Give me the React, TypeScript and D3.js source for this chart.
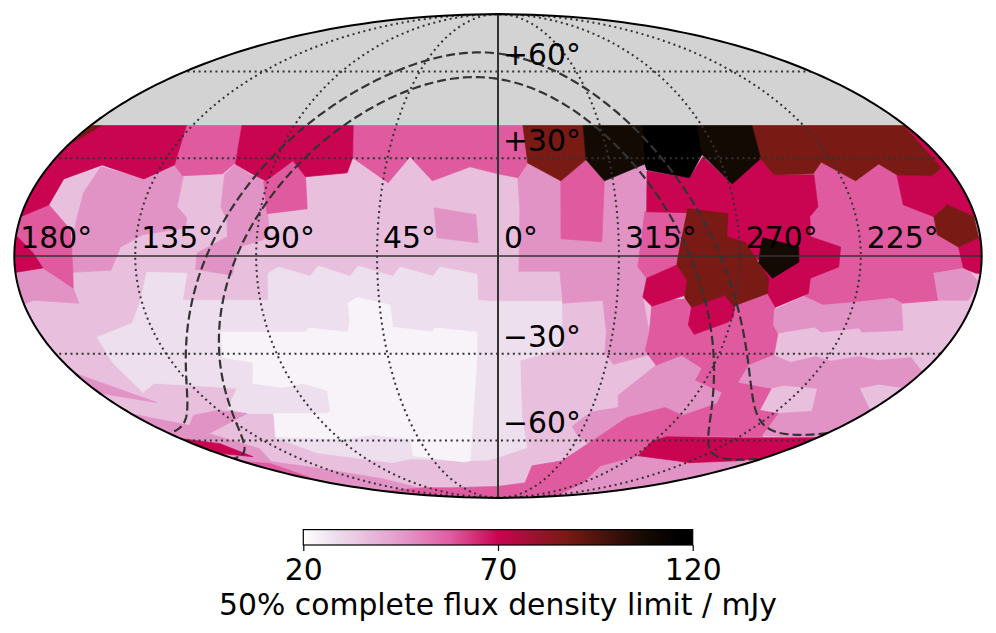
import React, { useEffect, useRef } from "react";
import * as d3 from "d3";

type Sky = [number, number];

// flux density limit (mJy) of each colour level seen on the map
const F0 = 23, F1 = 28, F2 = 36, F3 = 47, F4 = 58, F5 = 70, F6 = 87, F7 = 108, F8 = 117;

const colourValues = [20, F0, F1, F2, F3, F4, F5, F6, F7, F8, 120];
const colourStops = ["#ffffff", "#f8f3f8", "#eddfed", "#e8bfdd", "#e293c5", "#e05a9f", "#c90451", "#7a1a14", "#140a04", "#000000", "#000000"];

const colourTicks = [20, 70, 120];
const raLabels: [number, string][] = [[180, "180°"], [135, "135°"], [90, "90°"], [45, "45°"], [0, "0°"], [-45, "315°"], [-90, "270°"], [-135, "225°"]];
const decLabels: [number, string][] = [[60, "+60°"], [30, "+30°"], [-30, "−30°"], [-60, "−60°"]];
const meridians = [-135, -90, -45, 45, 90, 135];
const parallels = [-60, -30, 30, 60];
const galacticEdges = [-5, 5];
const northLimit = 40.8;

// the rest of the sky sits at F2; cells are painted over it in this order, [RA, Dec] in degrees
const lightCells: [number, Sky[]][] = [
  [F1, [[135.7, -14], [131, -4.9], [116, -5.2], [119.4, -13.4], [87, -13.4], [85.8, -5.2], [81.8, -3.3], [70.1, -6.1], [67, -3], [55.2, -6.1], [52.1, -3], [39.2, -6.1], [36.5, -3.3], [24.2, -6.1], [21.6, -3.3], [7.8, -5.5], [7.6, -13.4], [3, -13.7], [-24.2, -13.7], [-25.7, -28.2], [-9.1, -32.2], [-12, -51.5], [-17.7, -62.9], [5.5, -68], [24.5, -68.4], [59.8, -67.5], [75.6, -69.2], [115.8, -65], [125.5, -59], [116.7, -55], [110.3, -50], [123, -50], [129.6, -48.2], [116, -41.3], [150.4, -39.6], [160, -42.7], [159.8, -33], [158.4, -24.8], [141.6, -20.4]]],
  [F0, [[108.4, -23.2], [75.3, -23.2], [74, -21.9], [58.9, -23.2], [57.3, -20.1], [56.9, -14.3], [53.2, -12.5], [41, -14.9], [41, -21.6], [25.7, -23.2], [24.6, -21.9], [8.2, -23.2], [8.7, -32.2], [10.2, -41], [19.6, -68.4], [24.9, -68.8], [56, -66.2], [49.8, -59.4], [68.8, -57.8], [88.3, -59.4], [124.7, -58.6], [109.8, -50], [83.8, -50], [81.1, -48.9], [76.4, -42], [85.5, -39.6], [95.5, -41], [107.3, -39.6], [101.4, -32.8], [112.8, -31.2]]],
];

const midCells: [number, Sky[]][] = [
  [F3, [[159, 27.3], [139, 23.5], [130, 27.9], [124, 24.2], [122, 14.9], [117.3, 11.6], [117, 8.5], [132.8, 6.4], [140.6, 2.7], [144.3, -4.3], [158.9, -4.9], [159.2, 1.8], [158.6, 10], [159.8, 19.2]]],
  [F3, [[105.7, 28.2], [108, 24.8], [105.3, 14.9], [102, 10.9], [101, 5.8], [112, 0.9], [112.7, -4], [99.2, -5.8], [97, 2.7], [89.7, 4.3], [86.2, 5.5], [86.2, 10], [87.5, 14], [90.9, 23.2], [98, 24.8]]],
  [F3, [[24.3, 14.6], [8.3, 12.5], [7.4, 4], [22.8, 5.5]]],
  [F3, [[-7.8, 23.9], [-12, 28.5], [-24.6, 22.9], [-35.6, 29.2], [-41.7, 23.2], [-59.1, 27.9], [-56.3, 13.4], [-52.8, -0.3], [-52.1, -3.3], [-55.6, -6.7], [-54.7, -12.5], [-59.4, -23.5], [-59.5, -29], [-60.8, -30.5], [-48, -33.4], [-43.4, -29.8], [-42.5, -23.2], [-39.7, -13.4], [-24.6, -14.3], [-23.1, -4.6], [-7.8, -4.6], [-8.3, 14]]],
  [F3, [[179.4, -5.2], [169.6, -3.6], [159.5, -9.7], [159, -14.3], [175.8, -13.4], [179, -14.3], [200, -14.3], [200, -5.2]]],
  [F3, [[180, -36.3], [159.6, -46.1], [180, -43], [190, -40]]],
  [F3, [[182.8, -49.5], [160.8, -54.3], [150.7, -50.7], [135.7, -48.9], [123, -50], [158.6, -57.4], [152.4, -60.2], [146.8, -63.3], [160.5, -68.8], [140.3, -71.5], [110.4, -76.8], [103, -82.5], [190, -87], [200, -85], [200, -78], [200, -65], [200, -52]]],
  [F3, [[-91, -79], [-76.5, -70.6], [-92.4, -66.2], [-125.3, -68.4], [-136.8, -69.2], [-166.6, -68.4], [-205, -68.4], [-205, -85], [-190, -87], [-150, -87]]],
  [F3, [[-54.7, -43.7], [-65.9, -33.7], [-75, -30.5], [-85.7, -34.7], [-85.7, -38.6], [-101, -42.7], [-102.9, -46.5], [-91.4, -50.7], [-79.8, -47.9], [-64.5, -51.5], [-57.4, -47.9]]],
  [F3, [[-38.9, -54.7], [-45.1, -49.5], [-57.4, -47.9], [-64.5, -51.5], [-53.1, -61.3], [-44.4, -58.2]]],
  [F4, [[180, 11.9], [171, 15.5], [160, 7.9], [158.5, -4.3], [159.5, -9.7], [169.6, -3.6], [173, 0.9], [179.4, 5.8], [200, 5.8], [200, 11.9]]],
  [F4, [[138, 41], [113.4, 41], [106, 28.5], [109, 25.1], [124.5, 24.5], [130, 27.9]]],
  [F4, [[83, 29.2], [75.8, 24.2], [72.4, 14.3], [87.3, 12.8], [91.6, 22.6]]],
  [F4, [[64.2, 41], [-11, 41], [-12, 28.5], [-7.8, 23.9], [0, 25.1], [11.2, 27.3], [25.7, 22.9], [35.9, 30.5], [42.9, 22.3], [59.2, 30.2]]],
  [F4, [[-24.6, 22.9], [-35.6, 29.2], [-41.7, 23.2], [-38.7, 4.3], [-23.5, 5.2]]],
  [F4, [[-55.6, 13.4], [-71.8, 13.1], [-67.7, -0.3], [-66.6, -2.7], [-55.6, -6.7], [-52.1, -3.3]]],
  [F4, [[165, -69.6], [185, -79], [195, -75], [190, -68]]],
  [F4, [[-58.5, -15.2], [-59.4, -23.5], [-59.5, -29], [-65.9, -33.7], [-75, -30.5], [-85.7, -34.7], [-85.7, -38.6], [-101, -42.7], [-102.9, -46.5], [-91.4, -50.7], [-79.8, -47.9], [-64.5, -51.5], [-53.1, -61.3], [-44.8, -68.4], [-25.5, -70.6], [-28.9, -79], [0, -81], [62, -81.8], [97.5, -81.8], [176, -83.8], [200, -85], [190, -87], [190, -89], [0, -90], [-190, -89], [-150, -87], [-91, -79], [-76.5, -70.6], [-92.4, -66.2], [-89.1, -60.2], [-94.5, -58.6], [-148, -58.6], [-137.7, -50], [-126.5, -48.9], [-121.5, -41.3], [-105, -39.3], [-104.7, -33.7], [-112.6, -30.5], [-109.9, -23.5], [-107, -21], [-105.5, -16.4], [-105.6, -15.5], [-101.5, -11.3], [-63.9, -13.4]]],
  [F4, [[-130.5, 28.8], [-140, 22.9], [-153.2, 28.2], [-157.6, 24.8], [-154.3, 15.5], [-164.4, 11.9], [-164.1, 6.4], [-171.5, 2.7], [-173.4, -3.6], [-162.6, -5.2], [-166.7, -13.4], [-153.5, -14.3], [-149.3, -12.8], [-135.7, -14], [-123.5, -14.9], [-115.4, -12.2], [-116.9, -11.3], [-116.7, -6.7], [-126.9, -3.3], [-127.6, 2.7], [-116.7, 5.8], [-117.6, 11.9], [-121.6, 14.9], [-124.8, 24.8]]],
  [F3, [[-162.6, -5.2], [-174.8, -3.6], [-179.9, -7.9], [-178, -13.4], [-166.7, -13.4]]],
  [F3, [[-105.5, -16.4], [-115.4, -12.2], [-123.5, -14.9], [-135.7, -14], [-149.3, -12.8], [-153.1, -14.3], [-158.3, -22.6], [-142.7, -23.2], [-140.8, -21.9], [-126.8, -23.2], [-123.2, -21.6], [-109.9, -23.5], [-107, -21]]],
  [F3, [[-105, -39.3], [-104.7, -33.7], [-112.6, -30.5], [-121.3, -32.8], [-130, -30.9], [-137.5, -32.4], [-147.6, -30.9], [-157, -32.2], [-169.3, -31.2], [-180.2, -36], [-200, -36], [-200, -43], [-179, -41], [-166.9, -39.9], [-160.6, -41.3], [-180, -48.9], [-200, -49], [-200, -59], [-181, -59], [-147, -58.2], [-137.7, -50], [-152.4, -49.2], [-142, -41.3], [-125.8, -40.3], [-121.5, -41.3]]],
];

const darkCells: [number, Sky[]][] = [
  [F5, [[138, 41], [130, 27.9], [139, 23.5], [159, 27.9], [170.5, 23.5], [171, 15.5], [180, 11.9], [200, 11.9], [200, 41]]],
  [F5, [[179.4, 5.8], [173, 0.9], [169.6, -3.6], [179.4, -4.9], [200, -4.9], [200, 5.8]]],
  [F5, [[113.4, 41], [64.2, 41], [59.2, 30.2], [59.8, 25.4], [75.8, 24.2], [83, 29.2], [90.9, 22.9], [98.2, 25.4], [105.7, 28.2]]],
  [F5, [[178.9, -59.4], [164, -61.3], [163.4, -66.6], [181, -65], [195, -62]]],
  [F5, [[-59.2, 26], [-75.3, 23.9], [-83.6, 30.5], [-91.3, 21.9], [-106.8, 29.9], [-109, 24.8], [-124.8, 24.8], [-121.6, 14.9], [-117.6, 11.9], [-116.7, 5.8], [-127.6, 2.7], [-126.9, -3.3], [-116.7, -6.7], [-116.9, -11.3], [-105.6, -15.5], [-101.5, -11.3], [-97.5, -1.2], [-67.7, 1.8], [-71.8, 13.1], [-56.3, 13.4]]],
  [F5, [[-54.7, -12.5], [-55.6, -6.7], [-66.6, -2.7], [-70.7, -7.3], [-70.5, -11.9], [-58.5, -15.2]]],
  [F5, [[-73.7, -15.5], [-85.6, -11.9], [-90, -15.5], [-90.5, -18.6], [-89, -20.1], [-77.2, -23.9], [-73.9, -21]]],
  [F5, [[-92.4, -66.2], [-89.1, -60.2], [-94.5, -58.6], [-134, -59], [-190, -59], [-195, -66], [-166.6, -68.4], [-136.8, -69.2], [-125.3, -68.4]]],
  [F5, [[-179.4, 41], [-200, 41], [-200, 11.9], [-179.5, 11.9], [-171, 15.5], [-164.4, 11.9], [-154.3, 15.5], [-157.6, 24.8], [-171.4, 24.5], [-177.2, 27]]],
  [F5, [[-179.4, 5.5], [-171.5, 2.7], [-173.4, -3.6], [-178.3, -5.2], [-200, -5.2], [-200, 5.5]]],
  [F6, [[175, 41], [179, 35.3], [200, 35.3], [200, 41]]],
  [F6, [[-11, 41], [-37.7, 41], [-35.7, 29.5], [-24.6, 22.9], [-12, 28.5]]],
  [F6, [[-112.5, 41], [-179.4, 41], [-177.2, 27], [-171.4, 24.5], [-157.6, 24.8], [-153.2, 28.2], [-140, 22.9], [-130.5, 28.8], [-124.8, 25.1], [-109, 24.8], [-106.8, 29.9]]],
  [F6, [[-72, 14.3], [-86.9, 12.8], [-85.4, 5.8], [-92.3, 4], [-97.1, -2.1], [-101.1, -6.7], [-101.5, -11.3], [-90.4, -14.9], [-90, -15.5], [-85.6, -11.9], [-73.7, -15.5], [-70.5, -12.5], [-70.7, -7.3], [-66.6, -2.7], [-67, -0.3]]],
  [F6, [[-171, 15.5], [-164.4, 11.9], [-164.1, 6.4], [-171.5, 2.7], [-179.4, 5.5], [-179.5, 11.9]]],
  [F7, [[-37.7, 41], [-63.8, 41], [-59.1, 28.2], [-41.7, 22.9], [-35.7, 29.5]]],
  [F7, [[-88.2, 41], [-112.5, 41], [-106.8, 29.9], [-91.3, 21.9], [-83.6, 31.2]]],
  [F7, [[-98.8, 5.5], [-112, 2.7], [-112, -1.8], [-102.6, -6.7], [-97.1, -2.1], [-97.8, 2.7]]],
  [F8, [[-63.8, 41], [-88.2, 41], [-83.6, 31.2], [-75.3, 23.9], [-59.3, 26.3], [-59.1, 28.2]]],
];

const rad = Math.PI / 180;
const W = 996;
const H = 633;
const FONT = 29.8;

function mollweide(lambda: number, phi: number): [number, number] {
  let t = phi;
  if (Math.abs(Math.abs(phi) - Math.PI / 2) > 1e-6) {
    for (let i = 0; i < 50; i++) {
      const d = (2 * t + Math.sin(2 * t) - Math.PI * Math.sin(phi)) / (2 + 2 * Math.cos(2 * t));
      t -= d;
      if (Math.abs(d) < 1e-8) break;
    }
  }
  return [(2 * Math.SQRT2 / Math.PI) * lambda * Math.cos(t), Math.SQRT2 * Math.sin(t)];
}

const x = d3.scaleLinear().domain([-2 * Math.SQRT2, 2 * Math.SQRT2]).range([981.7, 14.3]);
const y = d3.scaleLinear().domain([-Math.SQRT2, Math.SQRT2]).range([497.9, 14.1]);
const sky = ([ra, dec]: Sky): [number, number] => {
  const [mx, my] = mollweide(ra * rad, dec * rad);
  return [x(mx), y(my)];
};

const colour = d3.scaleLinear<string>().domain(colourValues).range(colourStops).interpolate(d3.interpolateRgb);
const barX = d3.scaleLinear().domain([20, 120]).range([303.3, 692.7]);
const line = d3.line();
const decSteps = d3.range(-90, 90.5, 1);
const meridian = (ra: number) => line(decSteps.map((dec) => sky([ra, dec]))) as string;
const parallel = (dec: number) => line(d3.range(-180, 180.5, 2).map((ra) => sky([ra, dec]))) as string;
const outline = (line(decSteps.map((dec) => sky([180, dec])).concat(decSteps.slice().reverse().map((dec) => sky([-180, dec])))) as string) + "Z";

// a line of constant galactic latitude in RA/Dec, cut where it runs off the map
function galacticLine(b: number): string {
  const aG = 192.85948 * rad, dG = 27.12825 * rad, lN = 122.93192 * rad;
  const pts: Sky[] = d3.range(0, 360, 1).map((l) => {
    const dl = lN - l * rad, br = b * rad;
    const sd = Math.sin(dG) * Math.sin(br) + Math.cos(dG) * Math.cos(br) * Math.cos(dl);
    const a = aG + Math.atan2(Math.cos(br) * Math.sin(dl), Math.cos(dG) * Math.sin(br) - Math.sin(dG) * Math.cos(br) * Math.cos(dl));
    let ra = a / rad;
    while (ra > 180) ra -= 360;
    while (ra < -180) ra += 360;
    return [ra, Math.asin(sd) / rad];
  });
  const cut = pts.findIndex((p, i) => Math.abs(p[0] - pts[(i + 1) % 360][0]) > 180) + 1;
  const ordered = pts.slice(cut).concat(pts.slice(0, cut));
  return line(ordered.map(sky)) as string;
}

const cellPath = (c: [number, Sky[]], i: number) => (
  <path key={i} d={(line(c[1].map(sky)) as string) + "Z"} fill={colour(c[0])} stroke={colour(c[0])} strokeWidth={0.7} strokeLinejoin="round" />
);

export default function App() {
  const axisRef = useRef<SVGGElement>(null);

  useEffect(() => {
    const g = d3.select(axisRef.current as SVGGElement);
    g.call(d3.axisBottom(barX).tickValues(colourTicks).tickSize(6).tickPadding(8.2).tickFormat(d3.format("d")) as any);
    g.select(".domain").remove();
    g.selectAll(".tick line").attr("stroke", "#000").attr("stroke-width", 1.2);
    g.selectAll(".tick text").attr("fill", "#000").style("font-size", `${FONT}px`).style("font-family", "'DejaVu Sans'");
    g.attr("font-family", null).attr("font-size", null);
  }, []);

  return (
    <svg width={W} height={H} style={{ position: "absolute", left: 0, top: 0, display: "block" }} fontFamily="'DejaVu Sans'">
      <defs>
        <clipPath id="map">
          <path d={outline} />
        </clipPath>
        <linearGradient id="bar" x1="0" x2="1" y1="0" y2="0">
          {colourValues.map((v, i) => (
            <stop key={i} offset={(v - 20) / 100} stopColor={colourStops[i]} />
          ))}
        </linearGradient>
      </defs>

      <g clipPath="url(#map)">
        <path d={outline} fill={colour(F2)} />
        {lightCells.map(cellPath)}
        {midCells.map(cellPath)}
        {darkCells.map(cellPath)}
        <rect x={0} y={0} width={W} height={sky([0, northLimit])[1]} fill="#d3d3d3" />
        {meridians.map((ra) => (
          <path key={ra} d={meridian(ra)} fill="none" stroke="#333" strokeWidth={2} strokeDasharray="2 3.6" />
        ))}
        {parallels.map((dec) => (
          <path key={dec} d={parallel(dec)} fill="none" stroke="#333" strokeWidth={2} strokeDasharray="2 3.6" />
        ))}
        {galacticEdges.map((b) => (
          <path key={b} d={galacticLine(b)} fill="none" stroke="#333" strokeWidth={2.2} strokeDasharray="9 4" />
        ))}
        <path d={meridian(0)} fill="none" stroke="#333" strokeWidth={2} />
        <path d={parallel(0)} fill="none" stroke="#333" strokeWidth={1.6} />
      </g>
      <path d={outline} fill="none" stroke="#000" strokeWidth={2} />

      {raLabels.map(([ra, label]) => (
        <text key={label} x={sky([ra, 0])[0] + 6} y={248} fontSize={FONT} fill="#000">
          {label}
        </text>
      ))}
      {decLabels.map(([dec, label]) => (
        <text key={label} x={503} y={sky([0, dec])[1] - 7} fontSize={FONT} fill="#000">
          {label}
        </text>
      ))}

      <rect x={303.3} y={529.6} width={389.4} height={15.4} fill="url(#bar)" stroke="#000" strokeWidth={1.2} />
      <g ref={axisRef} transform="translate(0,545)" />
      <text x={498} y={615} textAnchor="middle" fontSize={FONT} fill="#000">
        50% complete flux density limit / mJy
      </text>
    </svg>
  );
}
